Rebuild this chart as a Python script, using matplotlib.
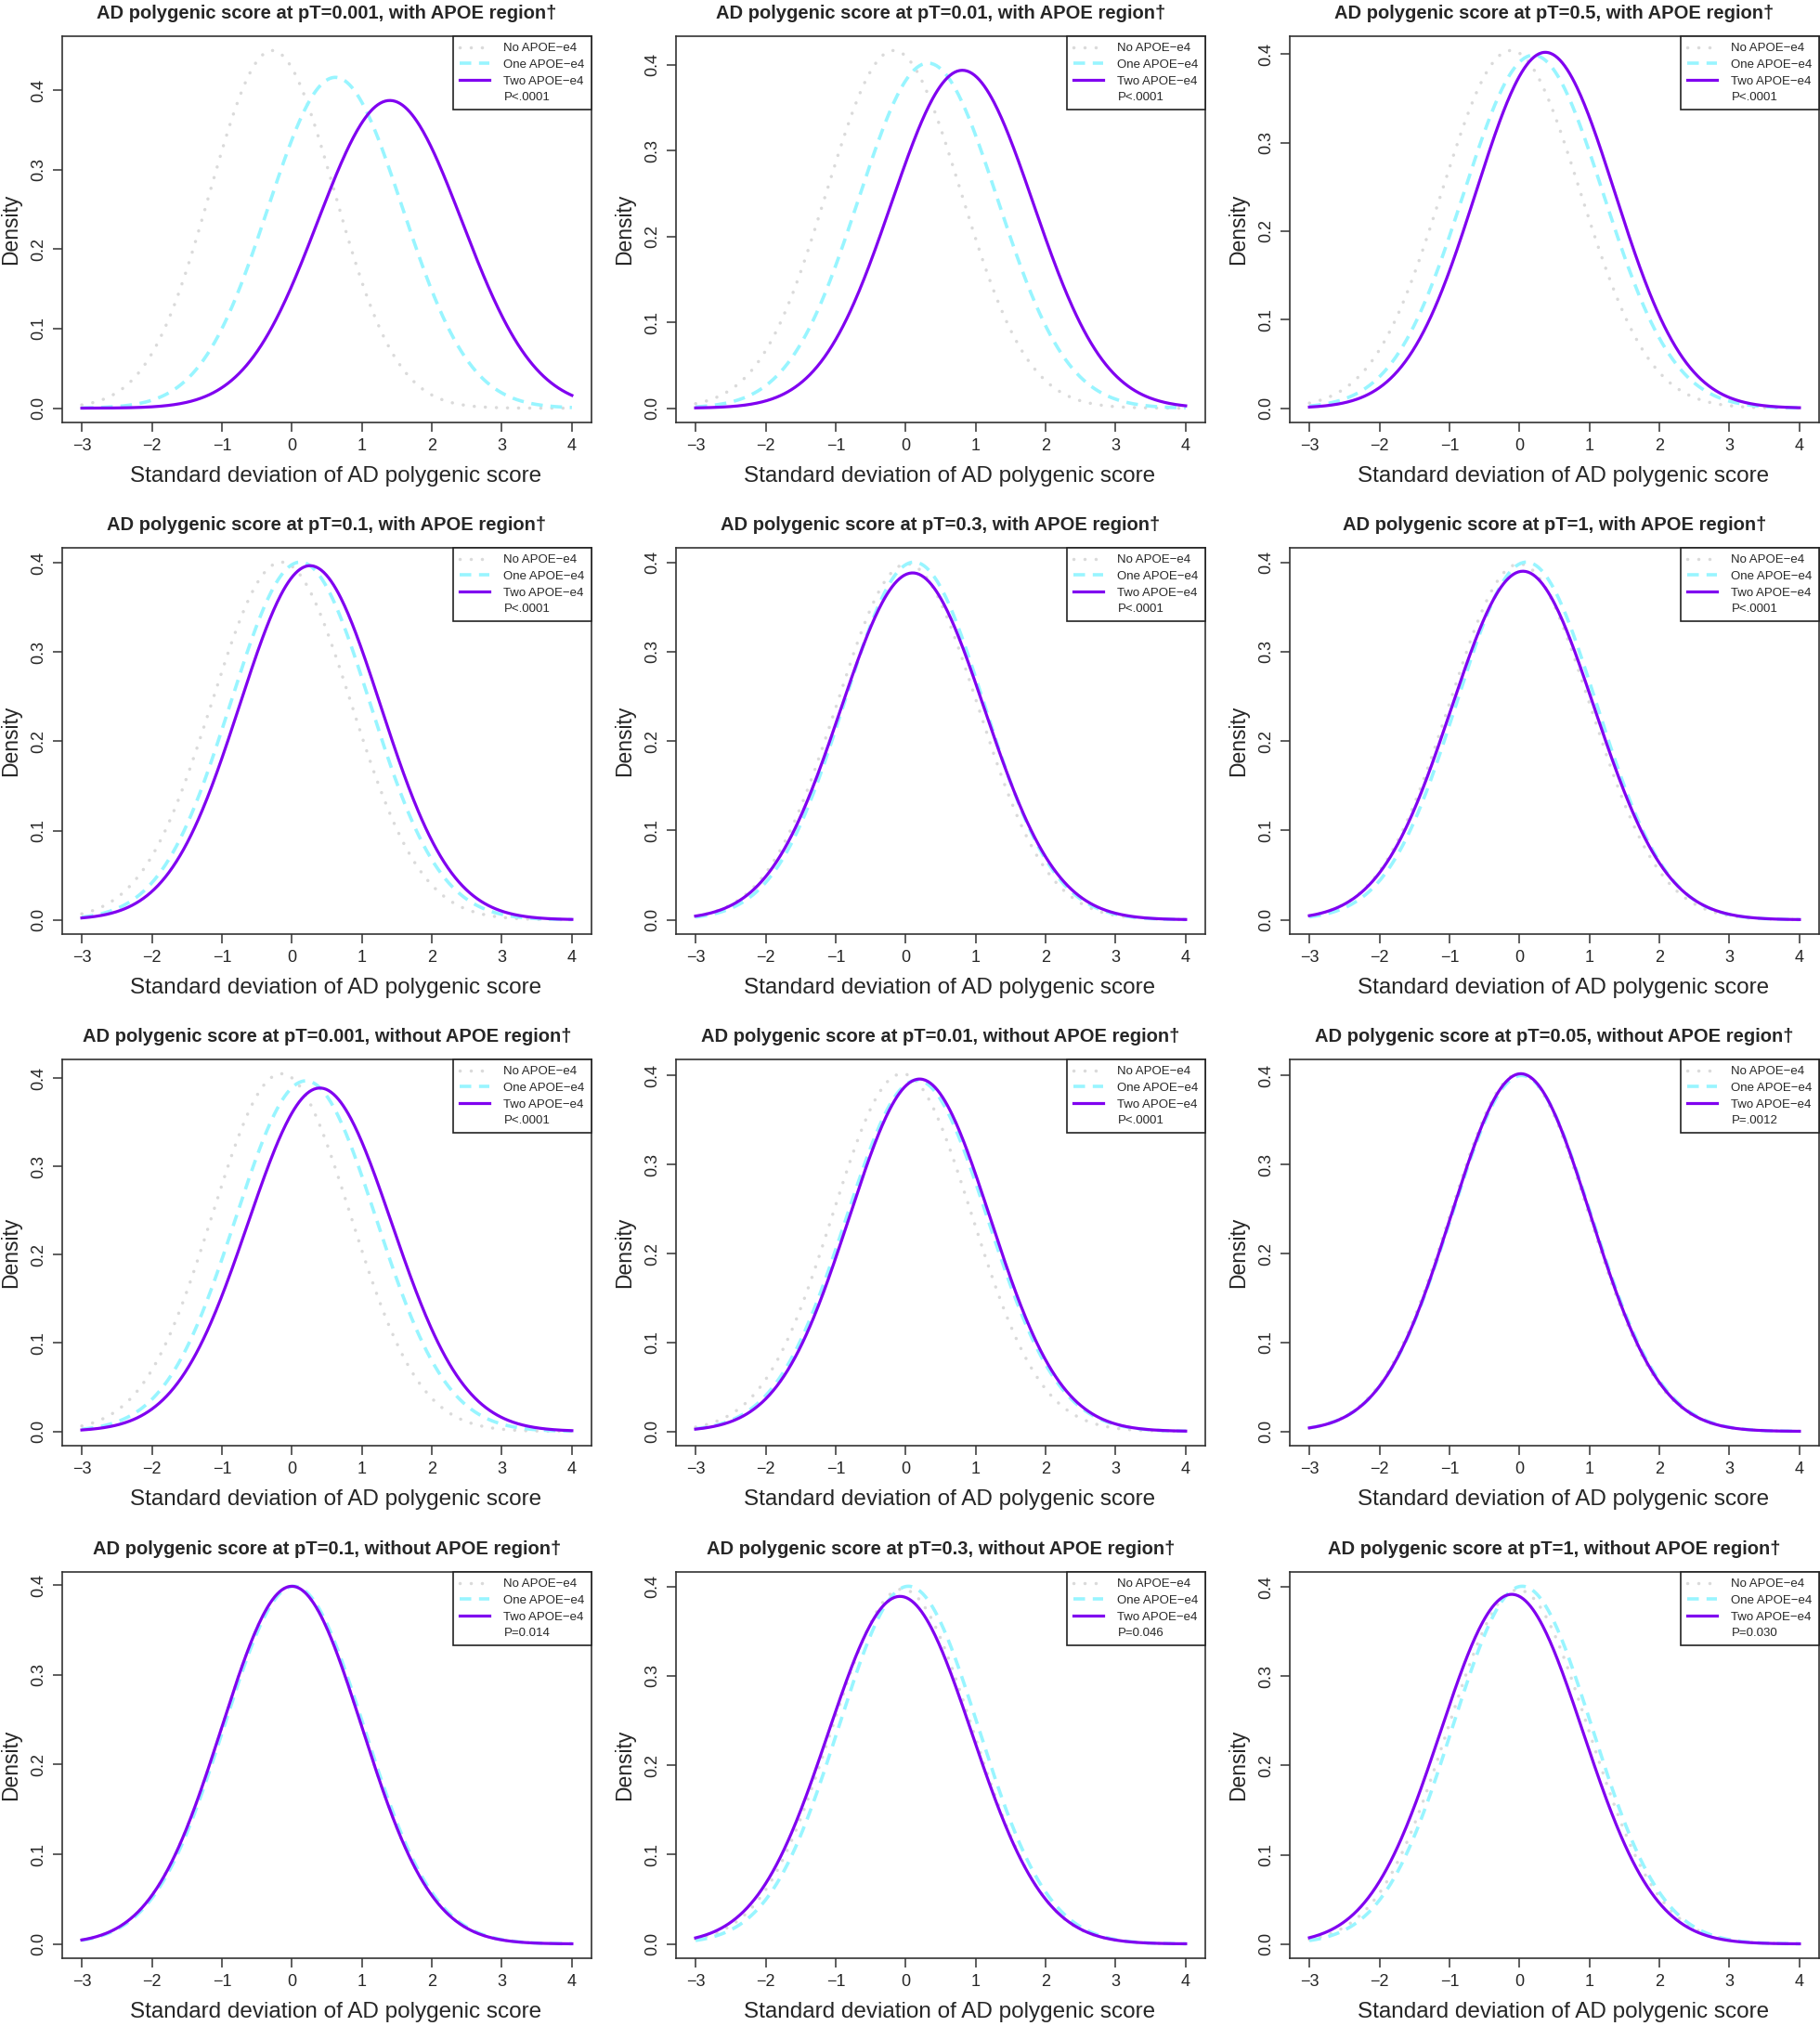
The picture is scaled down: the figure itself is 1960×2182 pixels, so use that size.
import numpy as np
import matplotlib
matplotlib.use("Agg")
import matplotlib.pyplot as plt
from matplotlib.lines import Line2D

plt.rcParams['font.family'] = ['Liberation Sans', 'DejaVu Sans']
plt.rcParams['lines.scale_dashes'] = False

# panel titles and the p value shown in each legend
titles = [
    "AD polygenic score at pT=0.001, with APOE region\u2020",
    "AD polygenic score at pT=0.01, with APOE region\u2020",
    "AD polygenic score at pT=0.5, with APOE region\u2020",
    "AD polygenic score at pT=0.1, with APOE region\u2020",
    "AD polygenic score at pT=0.3, with APOE region\u2020",
    "AD polygenic score at pT=1, with APOE region\u2020",
    "AD polygenic score at pT=0.001, without APOE region\u2020",
    "AD polygenic score at pT=0.01, without APOE region\u2020",
    "AD polygenic score at pT=0.05, without APOE region\u2020",
    "AD polygenic score at pT=0.1, without APOE region\u2020",
    "AD polygenic score at pT=0.3, without APOE region\u2020",
    "AD polygenic score at pT=1, without APOE region\u2020",
]
pvals = ["P<.0001", "P<.0001", "P<.0001", "P<.0001", "P<.0001", "P<.0001",
         "P<.0001", "P<.0001", "P=.0012", "P=0.014", "P=0.046", "P=0.030"]

# mean and sd of the standardised score per group
mean_no = [-0.28, -0.17, -0.12, -0.15, 0.02, 0.00, -0.15, -0.05, 0.00, 0.00, -0.05, -0.02]
sd_no = [0.887, 0.957, 0.987, 0.995, 1.002, 1.002, 0.985, 0.992, 0.992, 1.000, 1.005, 1.005]
mean_one = [0.62, 0.32, 0.20, 0.12, 0.12, 0.10, 0.20, 0.16, 0.03, 0.03, 0.04, 0.04]
sd_one = [0.959, 0.992, 1.000, 0.995, 0.997, 0.997, 1.005, 1.010, 0.997, 1.000, 0.997, 0.995]
mean_two = [1.40, 0.81, 0.37, 0.26, 0.10, 0.05, 0.40, 0.20, 0.02, 0.00, -0.08, -0.11]
sd_two = [1.031, 1.013, 0.992, 1.005, 1.028, 1.023, 1.026, 1.007, 0.992, 1.000, 1.026, 1.018]

group_labels = ["No APOE\u2212e4", "One APOE\u2212e4", "Two APOE\u2212e4"]
xticks = [-3, -2, -1, 0, 1, 2, 3, 4]
yticks = [0.0, 0.1, 0.2, 0.3, 0.4]

c_no = "#dadada"
c_one = "#98f5ff"
c_two = "#8000f0"
txt = "#262626"

W, H = 1960, 2182
fig = plt.figure(figsize=(W / 100, H / 100), dpi=100)

col_left = [67, 728, 1389]
row_top = [39, 590, 1141, 1693]
ax_w, ax_h = 570, 416

x = np.linspace(-3, 4, 400)


def dens(m, s):
    return np.exp(-0.5 * ((x - m) / s) ** 2) / (s * np.sqrt(2 * np.pi))


for i in range(12):
    r, c = divmod(i, 3)
    left = col_left[c] / W
    bottom = 1 - (row_top[r] + ax_h) / H
    ax = fig.add_axes([left, bottom, ax_w / W, ax_h / H])

    y_no = dens(mean_no[i], sd_no[i])
    y_one = dens(mean_one[i], sd_one[i])
    y_two = dens(mean_two[i], sd_two[i])
    top = max(y_no.max(), y_one.max(), y_two.max())

    ax.plot(x, y_no, color=c_no, lw=2.5, linestyle=(0, (0.1, 8.5)),
            dash_capstyle='round', label=group_labels[0])
    ax.plot(x, y_one, color=c_one, lw=2.6, linestyle=(0, (9, 6)),
            dash_capstyle='butt', label=group_labels[1])
    ax.plot(x, y_two, color=c_two, lw=2.3, label=group_labels[2])

    ax.set_xlim(-3.28, 4.28)
    ax.set_ylim(-0.04 * top, 1.04 * top)
    ax.set_xticks(xticks)
    ax.set_yticks(yticks)
    ax.set_yticklabels([f"{v:.1f}" for v in yticks], rotation=90, va='center')
    ax.tick_params(axis='both', direction='out', length=7, width=1.1,
                   colors='#333333', labelcolor=txt, labelsize=13, pad=5)
    for sp in ax.spines.values():
        sp.set_color('#333333')
        sp.set_linewidth(1.2)

    ax.set_xlabel("Standard deviation of AD polygenic score", fontsize=17.5,
                  color=txt)
    ax.xaxis.set_label_coords(0.517, -0.112)
    ax.set_ylabel("Density", fontsize=16.5, color=txt, labelpad=7)
    ax.set_title(titles[i], fontsize=14.5, fontweight='bold', color=txt, pad=14)

    handles, labels = ax.get_legend_handles_labels()
    handles.append(Line2D([], [], linestyle='none'))
    labels.append(pvals[i])
    leg = ax.legend(handles, labels, loc='upper right', borderaxespad=0,
                    fontsize=9.5, handlelength=2.4, handletextpad=1.2,
                    labelspacing=0.4, borderpad=0.55, fancybox=False,
                    framealpha=1, edgecolor='#222222', labelcolor=txt)
    leg.get_frame().set_linewidth(1.2)

fig.savefig("out.png", dpi=100, facecolor='white')
